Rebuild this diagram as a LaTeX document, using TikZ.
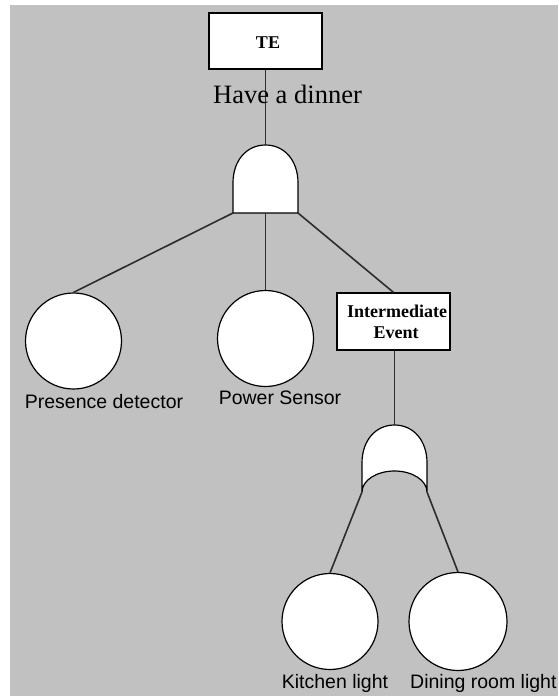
\documentclass[tikz,border=0pt]{standalone}
\usepackage{fontspec}
\setmainfont{Liberation Serif}
\setsansfont{Liberation Sans}
\definecolor{panel}{RGB}{193,193,193}
\definecolor{wire}{RGB}{45,45,45}
\begin{document}
\begin{tikzpicture}[x=1pt,y=-1pt,
  event/.style={draw=black,fill=white,line width=1.2pt,rectangle,inner sep=0pt},
  basic/.style={draw=black,fill=white,line width=1.2pt,circle,inner sep=0pt,minimum size=96pt},
  gate/.style={draw=black,fill=white,line width=1.2pt},
  link/.style={draw=wire,line width=1.6pt},
  eventtext/.style={font=\bfseries\fontsize{18}{22}\selectfont,inner sep=0pt},
  caption/.style={font=\sffamily\fontsize{19.5}{22}\selectfont,inner sep=0pt,anchor=base}]
\useasboundingbox (0,0) rectangle (558,696);
\fill[white] (0,0) rectangle (558,696);
\fill[panel] (10,5) rectangle (558,696);

% top event
\node[event,minimum width=113pt,minimum height=56pt] (te) at (265.5,41) {};
\node[eventtext,anchor=base] (telbl) at (268,48) {TE};

% AND gate under the top event
\coordinate (andtop) at (265.5,145);
\coordinate (andl) at (233,213);
\coordinate (andm) at (265.5,213);
\coordinate (andr) at (298,213);
\draw[gate] (andl) -- (233,183)
  .. controls (233,160) and (247,145) .. (andtop)
  .. controls (284,145) and (298,160) .. (298,183) -- (andr) -- cycle;
\draw[link] (te.south -| andtop) -- (andtop);
\node[font=\fontsize{26.5}{30}\selectfont,inner sep=0pt,anchor=base west] (dinner) at (213,103) {Have a dinner};

% basic events and intermediate event
\node[basic] (pres) at (73.5,341) {};
\node[basic] (pow) at (265.5,338.5) {};
\node[event,minimum width=113pt,minimum height=57pt] (ie) at (393.5,321.5) {};
\node[eventtext,anchor=base west] (ie1) at (347,317) {Intermediate};
\node[eventtext,anchor=base] (ie2) at (396,338) {Event};

\node[caption] (preslbl) at (104,408) {Presence detector};
\node[caption] (powlbl) at (280,404) {Power Sensor};

\draw[link] (andl) -- (pres.north);
\draw[link] (andm) -- (pow.north);
\draw[link] (andr) -- (ie.north);

% OR gate under the intermediate event
\coordinate (ortop) at (394.5,425);
\coordinate (orl) at (362,492);
\coordinate (orr) at (427,492);
\draw[gate] (orl) -- (362,463)
  .. controls (362,440) and (376,425) .. (ortop)
  .. controls (413,425) and (427,440) .. (427,463) -- (orr)
  arc[start angle=0,end angle=180,x radius=32.5pt,y radius=21pt] -- cycle;
\draw[link] (ie.south -| ortop) -- (ortop);

\node[basic] (kit) at (330,621.5) {};
\node[basic,minimum size=98pt] (din) at (458,621.5) {};
\draw[link] (orl) -- (kit.north);
\draw[link] (orr) -- (din.north);

\node[caption] (kitlbl) at (335,688) {Kitchen light};
\node[caption,anchor=base west] (dinlbl) at (410,688) {Dining room light};
\end{tikzpicture}
\end{document}
